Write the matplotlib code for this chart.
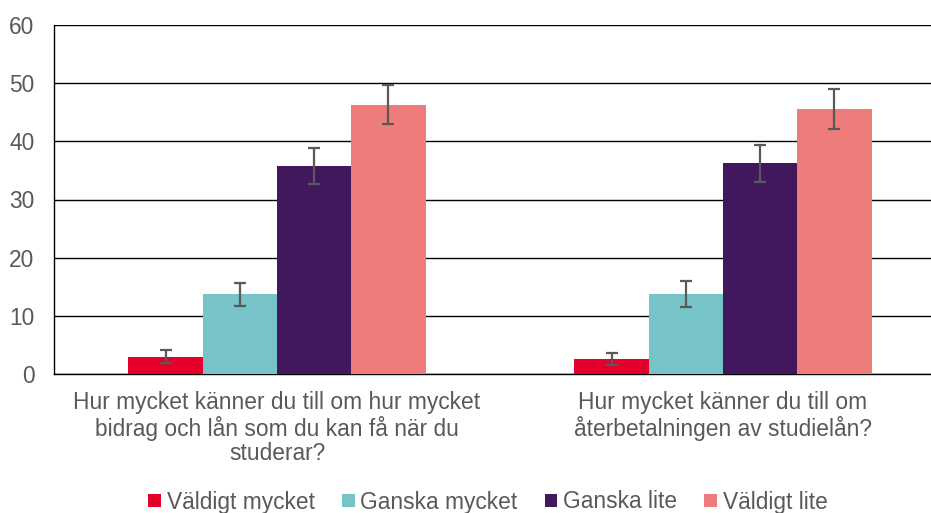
import numpy as np
import matplotlib.pyplot as plt

plt.rcParams['font.family'] = ['Liberation Sans', 'DejaVu Sans']

categories = [
    "Hur mycket känner du till om hur mycket\nbidrag och lån som du kan få när du\nstuderar?",
    "Hur mycket känner du till om\nåterbetalningen av studielån?",
]
series = ["Väldigt mycket", "Ganska mycket", "Ganska lite", "Väldigt lite"]
values = [
    [3.0, 2.6],
    [13.7, 13.8],
    [35.8, 36.2],
    [46.3, 45.6],
]
errors = [
    [1.1, 1.0],
    [2.0, 2.2],
    [3.1, 3.2],
    [3.3, 3.4],
]
colors = ["#E4002B", "#76C4C7", "#41185E", "#EE7C7B"]

text_color = "#595959"
fs = 16.4

fig = plt.figure(figsize=(9.31, 5.13), dpi=100)
# plot area runs past the right edge of the picture, as in the original crop
ax = fig.add_axes([54 / 931, 139 / 513, 892 / 931, 349 / 513])

x = np.arange(len(categories))
width = 0.1665

for i, (name, vals, errs, col) in enumerate(zip(series, values, errors, colors)):
    ax.bar(
        x + (i - 1.5) * width,
        vals,
        width=width,
        color=col,
        label=name,
        zorder=3,
        yerr=errs,
        error_kw=dict(ecolor="#595959", elinewidth=1.6, capsize=4.5, capthick=1.6, zorder=4),
    )

ax.set_xlim(-0.5, 1.5)
ax.set_ylim(0, 60)
ax.set_yticks(np.arange(0, 61, 10))
ax.yaxis.grid(True, color="black", linewidth=1.0, zorder=0)
ax.set_axisbelow(True)

for side in ["top", "right"]:
    ax.spines[side].set_visible(False)
ax.spines["left"].set_color("black")
ax.spines["bottom"].set_color("black")
ax.spines["left"].set_linewidth(1.0)
ax.spines["bottom"].set_linewidth(1.0)

ax.set_xticks(x)
ax.set_xticklabels(categories, linespacing=1.1)
ax.tick_params(axis="x", length=0, pad=12, labelsize=fs, labelcolor=text_color)
ax.tick_params(axis="y", length=0, pad=14, labelsize=fs, labelcolor=text_color)

leg = fig.legend(
    loc="center",
    bbox_to_anchor=(488 / 931, 1 - 502 / 513),
    ncol=4,
    frameon=False,
    fontsize=fs,
    handlelength=0.55,
    handleheight=0.55,
    handletextpad=0.25,
    columnspacing=1.2,
)
for t in leg.get_texts():
    t.set_color(text_color)

fig.savefig("out.png", dpi=100)
